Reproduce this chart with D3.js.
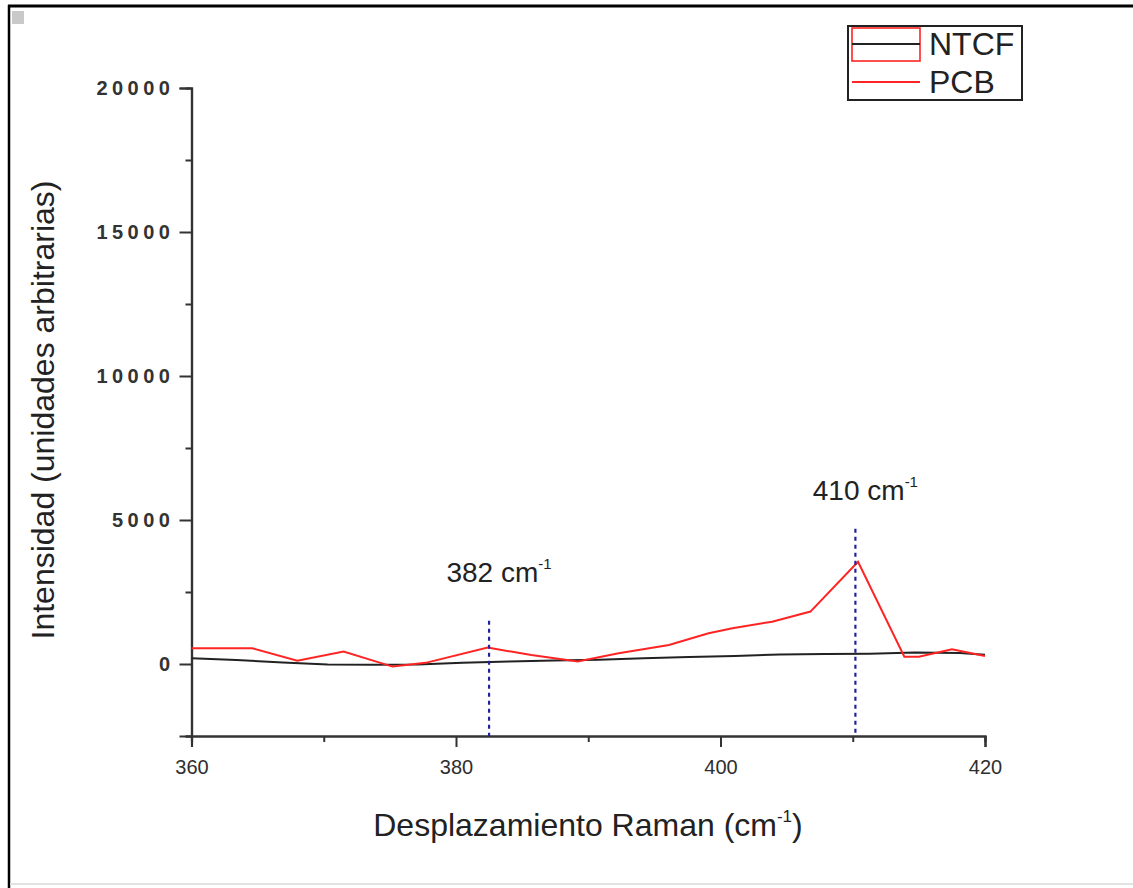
<!DOCTYPE html>
<html>
<head>
<meta charset="utf-8">
<script src="https://cdn.jsdelivr.net/npm/d3@7/dist/d3.min.js"></script>
<style>
  html, body { margin: 0; padding: 0; background: #fff; }
  svg { display: block; font-family: "Liberation Sans", Arial, sans-serif; }
</style>
</head>
<body>
<svg id="chart" width="1133" height="888"></svg>
<script>
// Raman spectra: NTCF and PCB samples
const ntcfShift     = [360, 363.4, 366.9, 370.3, 373.7, 377.1, 380.5, 384.0, 387.4, 390.8, 394.2, 397.6, 401.1, 404.5, 407.9, 411.3, 414.7, 418.1, 420];
const ntcfIntensity = [200, 140, 50, -20, -30, -20, 40, 90, 120, 150, 200, 240, 280, 330, 350, 360, 400, 380, 320];

const pcbShift      = [360, 364.6, 368.0, 371.5, 375.2, 377.7, 382.4, 385.7, 389.2, 392.3, 396.1, 399.1, 400.9, 403.9, 406.8, 410.4, 413.9, 415.0, 417.5, 420];
const pcbIntensity  = [545, 545, 115, 430, -90, 40, 570, 310, 90, 370, 660, 1070, 1240, 1470, 1820, 3550, 250, 250, 510, 280];

const seriesNames  = ["NTCF", "PCB"];
const seriesColors = ["#222222", "#ff2424"];

// marked peaks
const peakShift  = [382.5, 410.2];
const peakLabels = ["382", "410"];
const peakTop    = [1500, 4700];

const xMajorTicks = [360, 380, 400, 420];
const xMinorTicks = [370, 390, 410];
const yMajorTicks = [0, 5000, 10000, 15000, 20000];
const yMinorTicks = [-2500, 2500, 7500, 12500, 17500];

const xTitle = "Desplazamiento Raman (cm";
const yTitle = "Intensidad (unidades arbitrarias)";

const svg = d3.select("#chart");

// page frame
svg.append("line").attr("x1", 8).attr("x2", 1133).attr("y1", 6).attr("y2", 6)
  .attr("stroke", "#000").attr("stroke-width", 3);
svg.append("line").attr("x1", 9).attr("x2", 9).attr("y1", 5).attr("y2", 888)
  .attr("stroke", "#000").attr("stroke-width", 2.5);
svg.append("line").attr("x1", 10).attr("x2", 1133).attr("y1", 884).attr("y2", 884)
  .attr("stroke", "#e2e2e2").attr("stroke-width", 2);
svg.append("rect").attr("x", 12).attr("y", 11).attr("width", 12).attr("height", 13)
  .attr("fill", "#c9c9c9");

const x = d3.scaleLinear().domain([360, 420]).range([191.5, 985]);
const y = d3.scaleLinear().domain([-2500, 20000]).range([736, 88]);

const axisColor = "#333";

// x axis: major + minor ticks
const gx = svg.append("g").attr("transform", `translate(0,${y(-2500)})`);
gx.call(d3.axisBottom(x).tickValues(xMinorTicks).tickSize(6).tickFormat(""));
const gx2 = svg.append("g").attr("transform", `translate(0,${y(-2500)})`);
gx2.call(d3.axisBottom(x).tickValues(xMajorTicks).tickSize(11).tickPadding(13).tickFormat(d3.format("d")));
[gx, gx2].forEach(g => {
  g.select(".domain").attr("stroke", axisColor).attr("stroke-width", 2.2);
  g.selectAll(".tick line").attr("stroke", axisColor).attr("stroke-width", 2);
});
gx2.selectAll(".tick text")
  .attr("font-size", 20).attr("fill", "#2e2e2e")
  .attr("font-family", "'Liberation Sans', Arial, sans-serif");

// y axis: major + minor ticks
const gy = svg.append("g").attr("transform", `translate(${x(360)},0)`);
gy.call(d3.axisLeft(y).tickValues(yMinorTicks).tickSize(6).tickFormat(""));
const gy2 = svg.append("g").attr("transform", `translate(${x(360)},0)`);
gy2.call(d3.axisLeft(y).tickValues(yMajorTicks).tickSize(12).tickPadding(5).tickFormat(d3.format("d")));
[gy, gy2].forEach(g => {
  g.select(".domain").attr("stroke", axisColor).attr("stroke-width", 2.2);
  g.selectAll(".tick line").attr("stroke", axisColor).attr("stroke-width", 2);
});
gy2.selectAll(".tick text")
  .attr("font-size", 20).attr("font-weight", "bold").attr("fill", "#333")
  .attr("letter-spacing", "4.5px")
  .attr("font-family", "'Liberation Sans', Arial, sans-serif");

// axis titles
const xt = svg.append("text")
  .attr("x", 588).attr("y", 836)
  .attr("text-anchor", "middle")
  .attr("font-size", 32).attr("fill", "#222");
xt.append("tspan").text(xTitle);
xt.append("tspan").text("-1").attr("font-size", 17).attr("dy", -14);
xt.append("tspan").text(")").attr("dy", 14);

svg.append("text")
  .attr("transform", `translate(54,410) rotate(-90)`)
  .attr("text-anchor", "middle")
  .attr("font-size", 32).attr("fill", "#222")
  .text(yTitle);

// spectra
const line = d3.line().x(d => x(d[0])).y(d => y(d[1]));
const series = [
  d3.zip(ntcfShift, ntcfIntensity),
  d3.zip(pcbShift, pcbIntensity)
];
series.forEach((pts, i) => {
  svg.append("path")
    .datum(pts)
    .attr("d", line)
    .attr("fill", "none")
    .attr("stroke", seriesColors[i])
    .attr("stroke-width", 2);
});

// peak markers
const labelGap = [39, 29];
peakShift.forEach((p, i) => {
  svg.append("line")
    .attr("x1", x(p)).attr("x2", x(p))
    .attr("y1", y(peakTop[i])).attr("y2", y(-2500))
    .attr("stroke", "#22229a").attr("stroke-width", 2.2)
    .attr("stroke-dasharray", "4,4");
  const t = svg.append("text")
    .attr("x", x(p) + 10).attr("y", y(peakTop[i]) - labelGap[i])
    .attr("text-anchor", "middle")
    .attr("font-size", 28).attr("fill", "#222");
  t.append("tspan").text(peakLabels[i] + " cm");
  t.append("tspan").text("-1").attr("font-size", 15).attr("dy", -13);
});

// legend
const lg = svg.append("g");
lg.append("rect").attr("x", 848).attr("y", 26).attr("width", 174).attr("height", 74)
  .attr("fill", "#fff").attr("stroke", "#222").attr("stroke-width", 2);
lg.append("rect").attr("x", 852).attr("y", 28).attr("width", 68).attr("height", 33)
  .attr("fill", "none").attr("stroke", seriesColors[1]).attr("stroke-width", 1.6);
lg.append("line").attr("x1", 852).attr("x2", 920).attr("y1", 44).attr("y2", 44)
  .attr("stroke", seriesColors[0]).attr("stroke-width", 2);
lg.append("line").attr("x1", 852).attr("x2", 920).attr("y1", 82).attr("y2", 82)
  .attr("stroke", seriesColors[1]).attr("stroke-width", 2);
seriesNames.forEach((name, i) => {
  lg.append("text")
    .attr("x", 929).attr("y", 55 + i * 38)
    .attr("font-size", 32).attr("fill", "#222")
    .text(name);
});
</script>
</body>
</html>
